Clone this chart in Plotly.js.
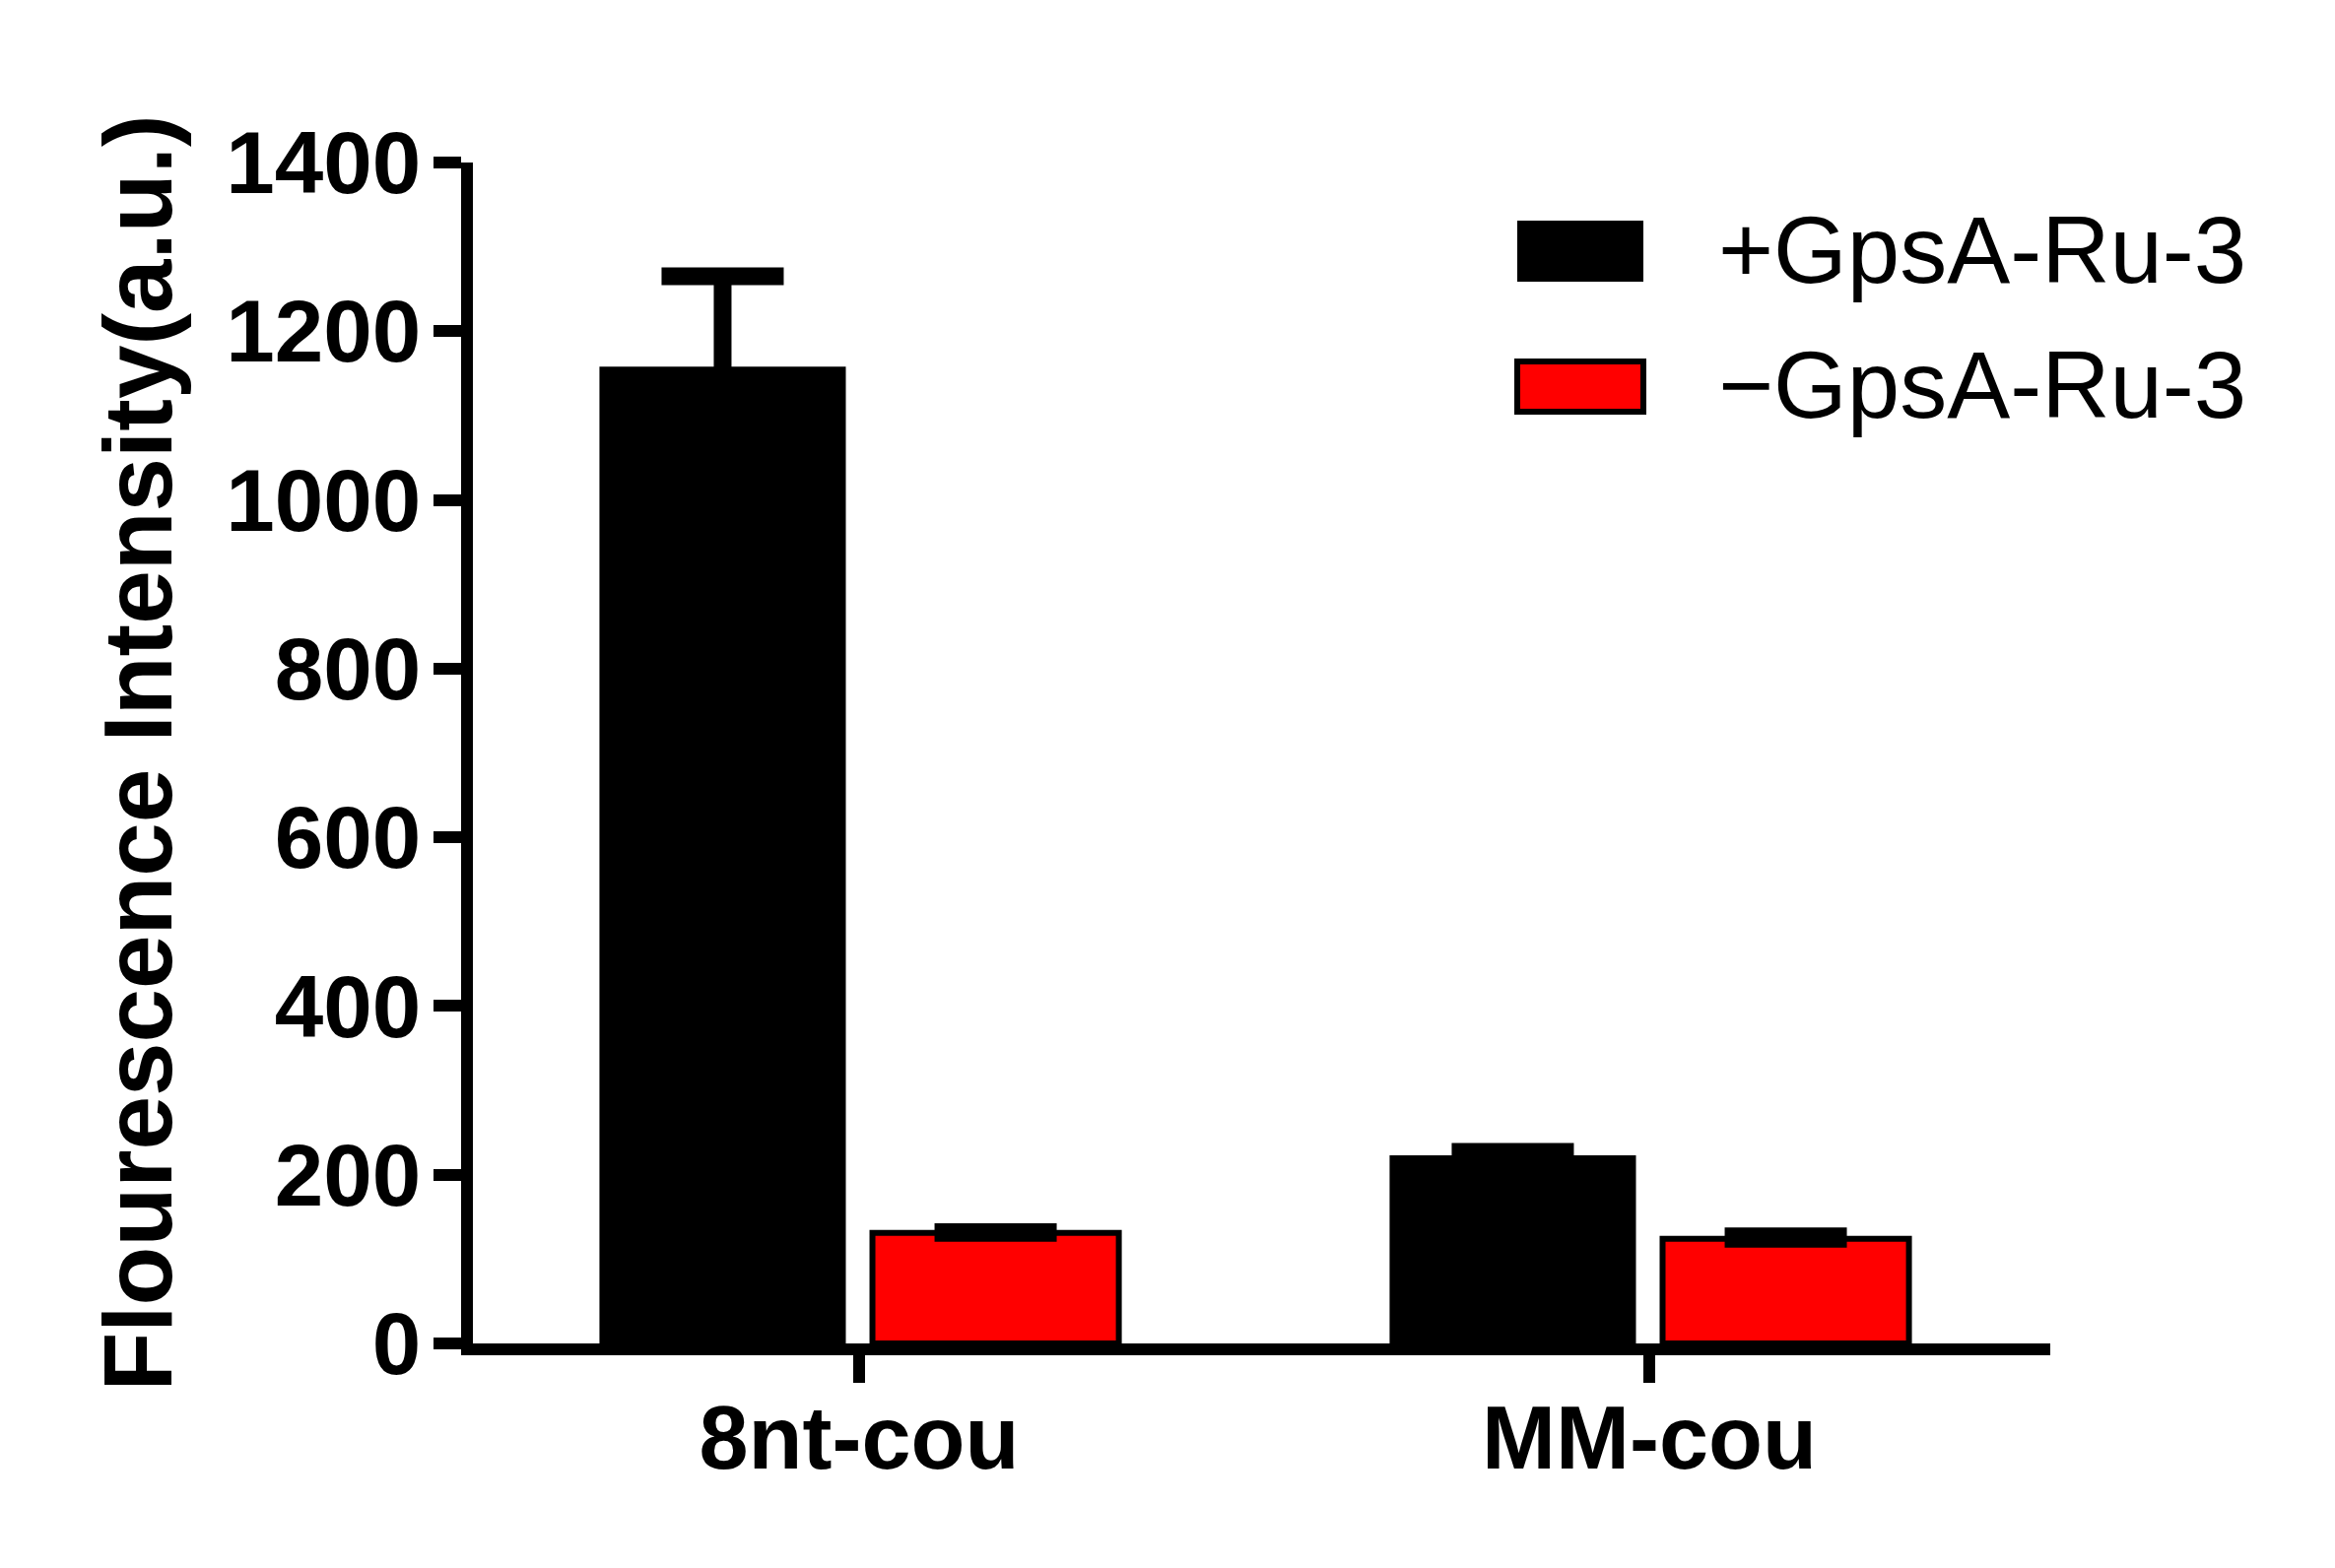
<!DOCTYPE html>
<html>
<head>
<meta charset="utf-8">
<script src="https://cdn.plot.ly/plotly-3.0.1.min.js"></script>
<style>html,body{margin:0;padding:0;background:#fff;}</style>
</head>
<body>
<div id="chart" style="width:2370px;height:1592px;"></div>
<script>
// ---- data ----
const categories = ['8nt-cou', 'MM-cou'];
const seriesNames = ['+GpsA-Ru-3', '\u2212GpsA-Ru-3'];
const plusValues = [1158, 223];
const plusErrors = [107, 4];
const minusValues = [131, 124];
const minusErrors = [1, 3];
const minusErrorsLow = [0, 0];
const yTickValues = [0, 200, 400, 600, 800, 1000, 1200, 1400];
const yTickLabels = ['0', '200', '400', '600', '800', '1000', '1200', '1400'];

const FONT = 'Liberation Sans, Arial, Helvetica, sans-serif';

const traces = [
  {
    type: 'bar', name: seriesNames[0], x: categories, y: plusValues,
    marker: {color: '#000000', line: {color: '#000000', width: 0}},
    error_y: {type: 'data', array: plusErrors, visible: true, color: '#000000', thickness: 18, width: 62}
  },
  {
    type: 'bar', name: seriesNames[1], x: categories, y: minusValues,
    marker: {color: '#ff0000', line: {color: '#000000', width: 6}},
    error_y: {type: 'data', symmetric: false, array: minusErrors, arrayminus: minusErrorsLow,
              visible: true, color: '#000000', thickness: 18, width: 62}
  }
];

// plot area in pixels
const L = 480, R = 2081, T = 165, B = 1364;
const px = v => (v - L) / (R - L);
const py = v => (B - v) / (B - T);

const layout = {
  width: 2370, height: 1592,
  margin: {l: L, r: 2370 - R, t: T, b: 1592 - B, pad: 0},
  paper_bgcolor: '#ffffff', plot_bgcolor: '#ffffff',
  barmode: 'group', bargap: 0.309, bargroupgap: 0.0975,
  showlegend: false,
  font: {family: FONT, color: '#000000'},
  xaxis: {
    type: 'category', range: [-0.4888, 1.5075],
    showline: true, linewidth: 12, linecolor: '#000000',
    ticks: 'outside', ticklen: 28, tickwidth: 12, tickcolor: '#000000',
    ticklabelstandoff: -21,
    tickfont: {family: FONT, size: 90, weight: 'bold', color: '#000000'},
    showgrid: false, zeroline: false, fixedrange: true
  },
  yaxis: {
    range: [0, 1400], tickvals: yTickValues, ticktext: yTickLabels,
    showline: true, linewidth: 12, linecolor: '#000000',
    ticks: 'outside', ticklen: 28, tickwidth: 12, tickcolor: '#000000',
    ticklabelstandoff: -5,
    tickfont: {family: FONT, size: 89, weight: 'bold', color: '#000000'},
    showgrid: false, zeroline: false, fixedrange: true,
    title: {text: 'Flourescence Intensity(a.u.)', font: {family: FONT, size: 98, weight: 'bold', color: '#000000'}, standoff: 27}
  },
  shapes: [
    {type: 'rect', xref: 'paper', yref: 'paper', x0: px(1540), x1: px(1668), y0: py(286), y1: py(224),
     fillcolor: '#000000', line: {width: 0}},
    {type: 'rect', xref: 'paper', yref: 'paper', x0: px(1540), x1: px(1668), y0: py(418), y1: py(367),
     fillcolor: '#ff0000', line: {color: '#000000', width: 6}}
  ],
  annotations: [
    {xref: 'paper', yref: 'paper', x: px(1742), y: py(254), xanchor: 'left', yanchor: 'middle', showarrow: false,
     text: seriesNames[0], font: {family: FONT, size: 96, color: '#000000'}},
    {xref: 'paper', yref: 'paper', x: px(1742), y: py(390), xanchor: 'left', yanchor: 'middle', showarrow: false,
     text: seriesNames[1], font: {family: FONT, size: 96, color: '#000000'}}
  ]
};

Plotly.newPlot('chart', traces, layout, {staticPlot: true, displayModeBar: false});
</script>
</body>
</html>
